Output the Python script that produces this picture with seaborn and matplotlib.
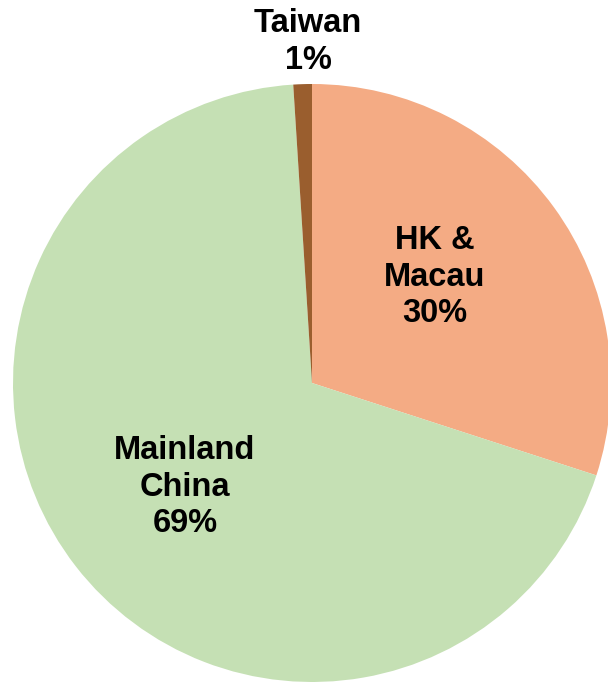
import matplotlib
matplotlib.use("Agg")
import matplotlib.pyplot as plt
import seaborn as sns

# Share of visitors by origin
regions = ["HK &\nMacau", "Mainland\nChina", "Taiwan"]
shares = [30, 69, 1]
colors = ["#F4AB84", "#C5E0B4", "#9A5E2E"]

# Label anchor points (relative to the pie centre, radius = 299)
label_xy = [(123, 106), (-127, -104), (-4, 341)]

sns.set_theme(style="white")
plt.rcParams["font.family"] = ["Liberation Sans", "DejaVu Sans"]

W, H = 608, 682
fig = plt.figure(figsize=(W / 100, H / 100), dpi=100)
ax = fig.add_axes([0, 0, 1, 1])

cx, cy, R = 312, 383, 299
ax.pie(shares, colors=colors, startangle=90, counterclock=False,
       radius=R, center=(0, 0), frame=False,
       wedgeprops=dict(linewidth=0, antialiased=True))

for name, pct, (x, y) in zip(regions, shares, label_xy):
    ax.text(x, y, f"{name}\n{pct}%", ha="center", va="center",
            fontsize=23.5, fontweight="bold", color="black",
            linespacing=1.22, multialignment="center")

ax.set_xlim(-cx, W - cx)
ax.set_ylim(cy - H, cy)
ax.set_aspect("equal", adjustable="box")
ax.axis("off")

fig.savefig("out.png", dpi=100, facecolor="white")
